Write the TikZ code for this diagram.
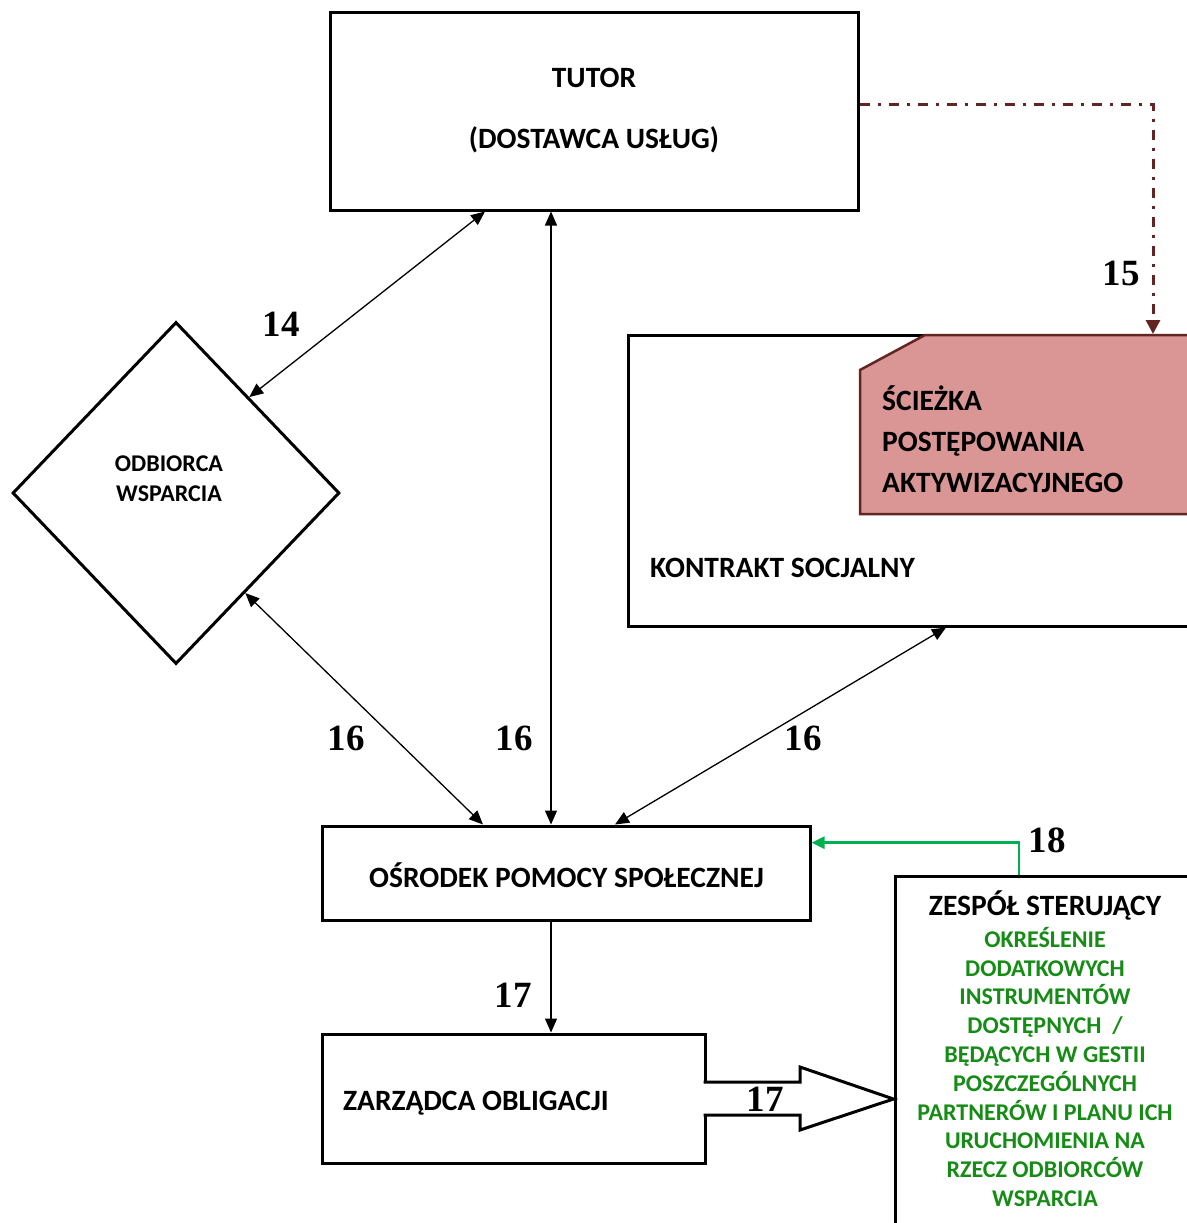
\documentclass[tikz,border=0pt]{standalone}
\usepackage{fontspec}
\setmainfont{Carlito}
\newfontfamily\numfont{Liberation Serif}
\usetikzlibrary{arrows.meta,shapes.geometric,calc}
\definecolor{dred}{HTML}{632523}
\definecolor{pinkf}{HTML}{D99694}
\definecolor{gtext}{HTML}{168C16}
\definecolor{garrow}{HTML}{00B050}
\begin{document}
\begin{tikzpicture}[x=1pt,y=-1pt,
  box/.style={draw,line width=3pt,fill=white,inner sep=0pt},
  lbl/.style={font=\fontsize{29.5}{33}\selectfont\bfseries, inner sep=0pt},
  small/.style={font=\fontsize{24}{28}\selectfont\bfseries, inner sep=0pt},
  gtxt/.style={font=\fontsize{24}{28}\selectfont\bfseries, text=gtext, inner sep=0pt},
  num/.style={font=\numfont\fontsize{37}{40}\selectfont\bfseries, inner sep=0pt},
  conn/.style={line width=1.3pt, {Triangle[length=14pt,width=12pt]}-{Triangle[length=14pt,width=12pt]}},
  one/.style={line width=1.3pt, -{Triangle[length=14pt,width=12pt]}},
]
\useasboundingbox[fill=white] (0,0) rectangle (1186,1223);

% TUTOR
\node[box, minimum width=528pt, minimum height=197pt] (tutor) at (594,111.5) {};
\node[lbl, anchor=base] (tutorT) at (594,87.5) {TUTOR};
\node[lbl, anchor=base] (tutorD) at (594,148) {(DOSTAWCA USŁUG)};

% ODBIORCA WSPARCIA
\node[draw, line width=3pt, diamond, fill=white, inner sep=0pt, minimum width=327pt, minimum height=342pt] (odb) at (176,493) {};
\node[small, anchor=base] (odb1) at (169,471.7) {ODBIORCA};
\node[small, anchor=base] (odb2) at (169,501) {WSPARCIA};

% KONTRAKT SOCJALNY
\node[box, minimum width=572pt, minimum height=291pt] (kont) at (914,480.5) {};
\node[lbl, anchor=base west] (kontT) at (650,577) {KONTRAKT SOCJALNY};

% SCIEZKA
\draw[fill=pinkf, draw=dred, line width=2.5pt, line join=miter] (860,370) -- (925,335) -- (1200,335) -- (1200,514) -- (860,514) -- cycle;
\coordinate (sciTop) at (1153,334);
\node[lbl, anchor=base west] (sci1) at (882,410) {ŚCIEŻKA};
\node[lbl, anchor=base west] (sci2) at (882,451) {POSTĘPOWANIA};
\node[lbl, anchor=base west] (sci3) at (882,492) {AKTYWIZACYJNEGO};

% OPS
\node[box, minimum width=488pt, minimum height=94pt] (ops) at (566,873) {};
\node[lbl, anchor=base] (opsT) at (566.5,887) {OŚRODEK POMOCY SPOŁECZNEJ};

% ZARZADCA
\node[box, minimum width=383pt, minimum height=129pt] (zarz) at (513.5,1098.5) {};
\node[lbl, anchor=base west] (zarzT) at (343,1110) {ZARZĄDCA OBLIGACJI};

% ZESPOL
\node[box, minimum width=400pt, minimum height=500pt] (zesp) at (1095,1126) {};
\node[lbl, anchor=base] (zespT) at (1045,915) {ZESPÓŁ STERUJĄCY};
\foreach [count=\i] \t in {OKREŚLENIE,DODATKOWYCH,INSTRUMENTÓW,{DOSTĘPNYCH\ \ /},BĘDĄCYCH W GESTII,POSZCZEGÓLNYCH,PARTNERÓW I PLANU ICH,URUCHOMIENIA NA,RZECZ ODBIORCÓW,WSPARCIA}
  \node[gtxt, anchor=base] (g\i) at (1045,{947.3+28.8*(\i-1)}) {\t};

% connectors
\draw[dred, line width=3pt, dash pattern=on 10pt off 8pt on 3pt off 8pt, -{Triangle[length=14pt,width=14pt]}]
  (tutor.east |- 0,104) -- (1153,104) -- (sciTop);
\draw[conn] ($(odb.north)!0.444!(odb.east)$) -- (tutor.south -| 485,0);
\draw[conn] (tutor.south -| 551,0) -- (ops.north -| 551,0);
\draw[conn] ($(odb.east)!0.58!(odb.south)$) -- (ops.north -| 483,0);
\draw[conn] (kont.south -| 946,0) -- (ops.north -| 615,0);
\draw[one] (ops.south -| 551,0) -- (zarz.north -| 551,0);

% block arrow 17
\draw[line width=3pt, fill=white, line join=miter]
  (703.5,1082) -- (800,1082) -- (800,1067) -- (zesp.west |- 0,1099) -- (800,1130) -- (800,1115) -- (703.5,1115);

% green arrow 18
\draw[garrow, line width=2.5pt, -{Triangle[length=13pt,width=12pt]}]
  (zesp.north -| 1019,0) -- (1019,842.7) -- (ops.east |- 0,842.7);

% labels
\node[num] (n15) at (1121,273) {15};
\node[num] (n14) at (281,324) {14};
\node[num] (n16a) at (346,738) {16};
\node[num] (n16b) at (514,738) {16};
\node[num] (n16c) at (803,738) {16};
\node[num] (n17a) at (513,995) {17};
\node[num] (n17b) at (765,1099) {17};
\node[num] (n18) at (1047,840) {18};
\end{tikzpicture}
\end{document}
